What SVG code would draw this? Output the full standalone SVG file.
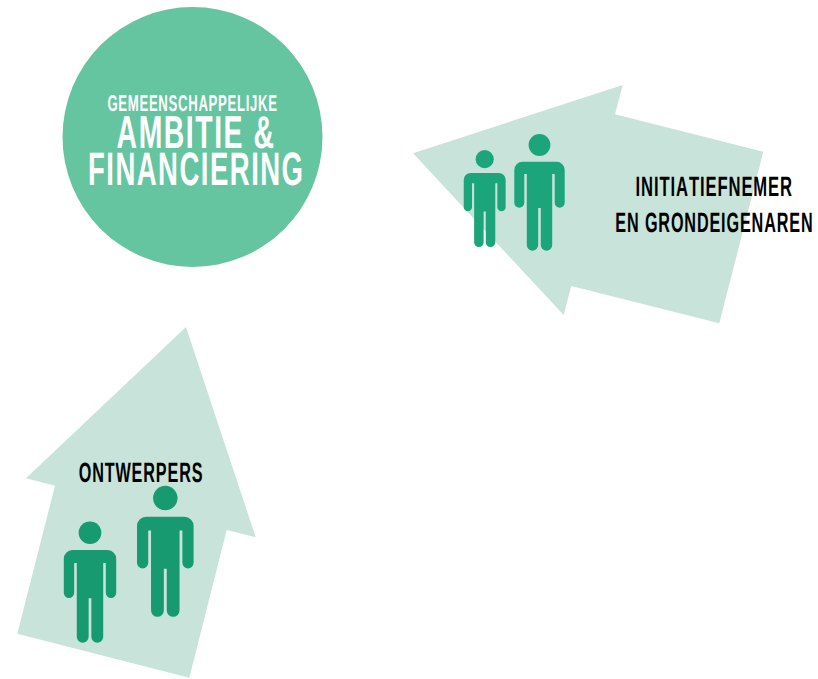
<svg xmlns="http://www.w3.org/2000/svg" width="818" height="679" viewBox="0 0 818 679">
<style>
.arrow{fill:#c7e3da}
.t{font-family:"Liberation Sans",Arial,sans-serif;font-weight:700;font-kerning:none;text-rendering:geometricPrecision}
.w{fill:#fff}
.k{fill:#000;font-size:28px;letter-spacing:1.5px}
.g1{fill:#1ca57a}
.g2{fill:#179a70}
</style>
<defs>
<g id="person">
<circle cx="0" cy="11" r="10.9"/>
<path d="M-17 27.7H17A8.2 8.2 0 0 1 25.2 36V68.7A5 5 0 0 1 15.2 68.7V40H12.7V111A5.7 5.7 0 0 1 1.3 111V74H-1.3V111A5.7 5.7 0 0 1 -12.7 111V40H-15.2V68.7A5 5 0 0 1 -25.2 68.7V36A8.2 8.2 0 0 1 -17 27.7Z"/>
</g>
</defs>
<g id="node-ambitie">
<circle cx="192.5" cy="137" r="130" fill="#66c5a1"/>
<text class="t w" transform="translate(107.4 110.7) scale(.577 1)" font-size="22.8" letter-spacing="1.2">GEMEENSCHAPPELIJKE</text>
<text class="t w" transform="translate(116.6 148.3) scale(.617 1)" font-size="46" letter-spacing="2.5">AMBITIE &amp;</text>
<text class="t w" transform="translate(88 185) scale(.586 1)" font-size="47" letter-spacing="2.5">FINANCIERING</text>
</g>
<g id="node-initiatiefnemer">
<polygon class="arrow" points="413,153.3 622.7,85 615,114.3 763.3,151.7 719.3,323.3 571.3,286 563.7,315"/>
<use href="#person" class="g1" transform="translate(484.7 150) scale(.832)"/>
<use href="#person" class="g1" transform="translate(539.5 134)"/>
<text class="t k" transform="translate(635.5 196) scale(.594 1)">INITIATIEFNEMER</text>
<text class="t k" transform="translate(615.3 231.7) scale(.578 1)">EN GRONDEIGENAREN</text>
</g>
<g id="node-ontwerpers">
<polygon class="arrow" points="186,327 26,478.3 55,485.7 17.3,633.7 189.3,677.7 226.7,530 255.7,537.3"/>
<use href="#person" class="g2" transform="translate(90 521.3) scale(1.04)"/>
<use href="#person" class="g2" transform="translate(165.3 485.7) scale(1.123)"/>
<text class="t k" transform="translate(78.7 481.7) scale(.578 1)">ONTWERPERS</text>
</g>
<g id="connectors"/>
</svg>
